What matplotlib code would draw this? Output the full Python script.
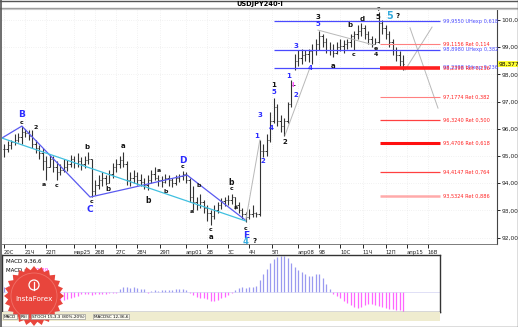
import numpy as np
import matplotlib
matplotlib.use("Agg")
import matplotlib.pyplot as plt
from matplotlib.patches import Polygon, Rectangle, Circle

W, H = 518, 327
BAR0, STEP = 4.0, 3.5          # pixel of bar 0 and pixel step per bar

# ---- 4H bars USDJPY ----
high = [95.45, 95.55, 95.6, 95.8, 95.85, 96.1, 96.0, 95.95, 95.95, 95.6,
        95.4, 95.3, 95.0, 95.05, 95.0, 94.8, 94.7, 94.9, 94.85, 95.05,
        95.0, 95.1, 94.95, 95.0, 95.15, 94.9, 94.1, 94.3, 94.4, 94.3,
        94.5, 94.75, 94.9, 95.0, 95.15, 94.8, 94.4, 94.5, 94.4, 94.35,
        94.2, 94.3, 94.5, 94.6, 94.3, 94.25, 94.35, 94.3, 94.2, 94.3,
        94.35, 94.45, 94.4, 94.2, 93.9, 93.5, 93.6, 93.4, 93.2, 93.0,
        93.2, 93.3, 93.45, 93.5, 93.55, 93.6, 93.5, 93.3, 93.1, 92.95,
        93.05, 93.2, 92.95, 95.6, 95.45, 95.8, 96.6, 97.15, 96.9, 96.5,
        96.4, 97.0, 97.8, 98.75, 98.9, 98.95, 98.9, 98.95, 99.1, 99.3,
        99.6, 99.5, 99.35, 99.2, 99.1, 99.2, 99.3, 99.25, 99.3, 99.5,
        99.6, 99.8, 99.9, 99.8, 99.6, 99.4, 99.35, 100.3, 100.0, 99.8,
        99.6, 99.3, 99.0, 98.85, 98.7]
low = [94.95, 95.15, 95.25, 95.4, 95.5, 95.45, 95.7, 95.6, 95.3, 95.1,
       94.9, 94.5, 94.1, 94.6, 94.4, 94.1, 94.3, 94.4, 94.45, 94.6,
       94.55, 94.6, 94.5, 94.55, 94.7, 93.5, 93.55, 93.8, 93.9, 93.95,
       94.0, 94.2, 94.4, 94.55, 94.6, 93.95, 93.9, 94.0, 93.95, 93.9,
       93.8, 93.75, 94.0, 94.1, 93.9, 93.85, 94.0, 93.9, 93.85, 93.95,
       94.05, 94.1, 94.0, 93.3, 93.0, 93.0, 93.1, 92.9, 92.6, 92.45,
       92.7, 92.9, 93.05, 93.15, 93.2, 93.25, 93.05, 92.9, 92.7, 92.57,
       92.7, 92.75, 92.75, 92.8, 94.95, 95.0, 95.5, 96.2, 96.1, 95.9,
       95.75, 96.2, 96.8, 98.15, 98.3, 98.4, 98.5, 98.45, 98.4, 98.7,
       98.9, 99.0, 98.8, 98.7, 98.65, 98.75, 98.85, 98.8, 98.95, 99.0,
       98.9, 99.3, 99.4, 99.3, 99.1, 99.0, 99.1, 99.15, 99.5, 99.3,
       99.0, 98.7, 98.5, 98.3, 98.15]
close = [95.25, 95.4, 95.5, 95.6, 95.7, 95.9, 95.85, 95.75, 95.45, 95.3,
         95.1, 94.8, 94.6, 94.9, 94.6, 94.4, 94.5, 94.6, 94.7, 94.9,
         94.75, 94.8, 94.7, 94.85, 94.9, 93.7, 93.95, 94.1, 94.2, 94.0,
         94.35, 94.6, 94.7, 94.85, 94.7, 94.1, 94.2, 94.25, 94.1, 94.05,
         93.95, 94.1, 94.35, 94.2, 94.1, 94.05, 94.2, 94.1, 94.0, 94.2,
         94.25, 94.35, 94.1, 93.5, 93.3, 93.2, 93.3, 93.1, 92.9, 92.8,
         93.0, 93.2, 93.35, 93.4, 93.4, 93.5, 93.2, 93.0, 92.85, 92.75,
         92.85, 92.9, 92.85, 95.2, 95.2, 95.6, 96.3, 96.8, 96.3, 96.1,
         96.3, 96.9, 97.6, 98.5, 98.6, 98.7, 98.75, 98.85, 98.9, 99.1,
         99.4, 99.2, 98.9, 98.9, 98.8, 99.0, 99.05, 99.1, 99.2, 99.4,
         99.5, 99.6, 99.7, 99.5, 99.3, 99.1, 99.2, 99.9, 99.7, 99.5,
         99.2, 98.9, 98.7, 98.5, 98.38]
# MACD histogram (9,36,6)
macd = [0.1, 0.12, 0.1, 0.1, 0.08, 0.1, 0.08, 0.06, 0.04, 0.02,
        0.01, -0.04, -0.08, -0.12, -0.15, -0.2, -0.2, -0.18, -0.16, -0.14,
        -0.1, -0.08, -0.05, -0.04, -0.04, -0.06, -0.05, -0.05, -0.04, -0.04,
        -0.03, -0.03, -0.02, 0.06, 0.1, 0.1, 0.08, 0.1, 0.08, 0.06,
        0.05, -0.02, 0.02, 0.03, 0.02, 0.03, 0.04, 0.03, 0.04, 0.05,
        0.06, 0.05, 0.03, -0.03, -0.06, -0.1, -0.12, -0.14, -0.16, -0.2,
        -0.2, -0.18, -0.14, -0.1, -0.06, -0.02, 0.04, 0.08, 0.1, 0.08,
        0.1, 0.1, 0.12, 0.24, 0.36, 0.48, 0.6, 0.68, 0.72, 0.74,
        0.74, 0.7, 0.6, 0.52, 0.44, 0.4, 0.36, 0.32, 0.32, 0.36,
        0.36, 0.28, 0.16, 0.06, -0.04, -0.08, -0.14, -0.2, -0.24, -0.28,
        -0.32, -0.34, -0.32, -0.28, -0.26, -0.26, -0.28, -0.3, -0.32, -0.34,
        -0.36, -0.36, -0.38, -0.38, -0.39]

price_ticks = [92, 93, 94, 95, 96, 97, 98, 99, 100]
last_price = 98.377

date_pos = [0, 6, 12, 20, 26, 32, 38, 44.5, 52, 58, 64, 70, 76.5, 84, 90, 96,
            102.5, 109, 115, 121]
date_labels = ["20С", "21Ч", "22П", "мар25", "26В", "27С", "28Ч", "29П", "апр01",
               "2В", "3С", "4Ч", "5П", "апр08", "9В", "10С", "11Ч", "12П",
               "апр15", "16В"]

# expansion (blue) and retracement (red) levels
exp_levels = [99.955, 98.898, 98.2398]
exp_text = ["99,9550 UHexp 0,618", "98,8980 UHexp 0,382", "98,2398 UHexp 0,236"]
ret_levels = [99.1156, 98.2398, 97.1774, 96.3240, 95.4706, 94.4147, 93.5324]
ret_text = ["99,1156 Ret 0,114", "98,2398 Ret 0,236", "97,1774 Ret 0,382",
            "96,3240 Ret 0,500", "95,4706 Ret 0,618", "94,4147 Ret 0,764",
            "93,5324 Ret 0,886"]
ret_width = [0.8, 2.6, 0.8, 0.9, 2.2, 0.9, 1.8]
ret_color = ["#ff8080", "#ff2020", "#ff8080", "#ff4040", "#ff1010", "#ff4040", "#ffaaaa"]

# wave zigzags (bar index, price)
zz_blue_x = [-0.6, 5.1, 24.6, 36, 52.3, 68.9]
zz_blue_y = [95.66, 96.10, 93.49, 93.82, 94.30, 92.65]
zz_cyan_x = [-0.6, 69.1]
zz_cyan_y = [95.66, 92.61]
gray_lines = [([69.1, 73.1], [92.65, 95.59]),
              ([80.3, 87.4], [95.77, 98.24]),
              ([89.7, 105.7], [99.63, 99.08]),
              ([114.6, 122.3], [98.16, 99.74]),
              ([116.0, 124.0], [99.71, 96.76])]

# wave labels: text, bar index, price, colour, size
BL, BK, CY = "#2b2bff", "#111111", "#33aadd"
wave_labels = [
    ("B", 5.1, 96.51, BL, 6.5), ("c", 5.1, 96.25, BK, 4.5), ("2", 9.1, 96.03, BK, 4.5),
    ("a", 11.4, 93.95, BK, 4.5), ("c", 15.1, 93.92, BK, 4.5), ("b", 23.7, 95.32, BK, 5),
    ("c", 24.9, 93.32, BK, 4.5), ("C", 24.6, 93.05, BL, 6.5), ("b", 29.7, 93.78, BK, 5),
    ("a", 34.0, 95.36, BK, 5), ("b", 41.1, 93.38, BK, 5.5), ("a", 44.3, 94.48, BK, 4.5),
    ("b", 46.3, 93.68, BK, 4.5), ("D", 51.1, 94.85, BL, 6.5), ("c", 51.1, 94.6, BK, 4.5),
    ("a", 53.7, 92.95, BK, 4.5), ("b", 55.7, 93.9, BK, 4.5), ("c", 58.9, 92.28, BK, 4.5),
    ("a", 59.1, 92.04, BK, 5), ("b", 64.9, 94.02, BK, 5.5), ("c", 64.9, 93.8, BK, 4.5),
    ("a", 66.3, 93.1, BK, 4.5), ("c", 69.1, 92.32, BK, 4.5), ("E", 69.1, 92.08, BL, 6.5),
    ("4", 68.9, 91.86, CY, 6), ("?", 71.6, 91.86, BK, 5),
    ("1", 72.3, 95.75, BL, 5), ("2", 74.0, 94.82, BL, 5), ("3", 73.1, 96.51, BL, 5),
    ("4", 76.3, 96.03, BL, 5), ("5", 77.1, 97.35, BL, 5), ("1", 77.1, 97.62, BK, 5),
    ("2", 80.3, 95.5, BK, 5), ("1", 81.4, 97.94, BL, 5), ("i", 82.6, 97.6, "#ff44ff", 5),
    ("2", 83.4, 97.24, BL, 5), ("3", 83.4, 99.04, BL, 5), ("4", 87.4, 98.24, BL, 5),
    ("5", 89.7, 99.85, BL, 5), ("3", 89.7, 100.11, BK, 5), ("a", 94.0, 98.31, BK, 5),
    ("c", 100.0, 98.75, BK, 4.5), ("b", 98.9, 99.8, BK, 5), ("d", 102.3, 100.05, BK, 5),
    ("e", 106.3, 98.95, BK, 4.5), ("4", 106.3, 98.73, BK, 4.5), ("?", 106.9, 100.37, BK, 4.5),
    ("5", 106.9, 100.12, BK, 5), ("5", 110.3, 100.16, CY, 7), ("?", 112.3, 100.14, BK, 5),
]


def box(x0, y0, x1, y1):
    return [x0 / W, 1 - y1 / H, (x1 - x0) / W, (y1 - y0) / H]


def px2bar(px):
    return (px - BAR0) / STEP


fig = plt.figure(figsize=(W / 100, H / 100), dpi=100)
fig.patch.set_facecolor("white")

# ---- main price pane ----
ax = fig.add_axes(box(2, 9, 497, 244))
n = len(close)
idx = np.arange(n)
opens = [close[0]] + close[:-1]
ax.vlines(idx, low, high, color="#333333", lw=0.8)
ax.hlines(opens, idx - 0.4, idx, color="#333333", lw=0.7)
ax.hlines(close, idx, idx + 0.4, color="#333333", lw=0.7)

ax.plot(zz_blue_x, zz_blue_y, color="#5a5af0", lw=0.9)
ax.plot(zz_cyan_x, zz_cyan_y, color="#40c0e0", lw=0.9)
for gx, gy in gray_lines:
    ax.plot(gx, gy, color="#b8b8b8", lw=0.7)

x_exp0, x_ret0, x_end = px2bar(274), px2bar(380), px2bar(440)
x_txt = px2bar(443)
for k, (lev, txt) in enumerate(zip(exp_levels, exp_text)):
    xe = x_end if k < 2 else x_ret0
    ax.hlines(lev, x_exp0, xe, color="#4a4aff", lw=0.9)
    ax.text(x_txt, lev, txt, color="#4a4aff", fontsize=3.6, va="center", ha="left")
for lev, txt, lw, col in zip(ret_levels, ret_text, ret_width, ret_color):
    ax.hlines(lev, x_ret0, x_end, color=col, lw=lw)
    ax.text(x_txt, lev, txt, color="#ff2020", fontsize=3.6, va="center", ha="left")

for txt, xi, yi, col, sz in wave_labels:
    ax.text(xi, yi, txt, color=col, fontsize=sz, ha="center", va="center",
            fontweight="bold")

ax.set_xlim(px2bar(2), px2bar(497))
ax.set_ylim(100 - (244 - 20) / 27.2, 100 + 11 / 27.2)
ax.yaxis.tick_right()
ax.set_yticks(price_ticks)
ax.set_yticklabels([f"{p},0000" for p in price_ticks], fontsize=4.3, color="#222222")
ax.tick_params(axis="y", length=2, pad=1, width=0.6)
ax.set_xticks(date_pos)
ax.set_xticklabels(date_labels, fontsize=3.8, ha="left", color="#222222")
ax.tick_params(axis="x", length=3, pad=1, width=0.6, direction="out")
ax.grid(color="#d6d6d6", lw=0.4, ls=(0, (1, 3)))
for s in ["top", "left"]:
    ax.spines[s].set_visible(False)
ax.spines["right"].set_color("#444444")
ax.spines["bottom"].set_color("#666666")
ax.spines["right"].set_linewidth(0.8)
ax.spines["bottom"].set_linewidth(0.6)
ax.text(1.003, last_price, "98,3770", transform=ax.get_yaxis_transform(),
        fontsize=4.3, va="center", ha="left",
        bbox=dict(fc="#ffff33", ec="none", pad=0.6))

# ---- MACD pane ----
am = fig.add_axes(box(2, 255, 440, 312))
mcol = ["#9a9af0" if v >= 0 else "#ff66ff" for v in macd]
am.vlines(idx, 0, macd, colors=mcol, lw=0.9)
am.axhline(0, color="#c8c8f0", lw=0.4)
am.set_xlim(px2bar(2), px2bar(440))
am.set_ylim(-20 * 0.02 - 0.02, 37 * 0.02 + 0.02)
am.set_xticks([])
am.set_yticks([])
for s in am.spines.values():
    s.set_color("#333333")
    s.set_linewidth(1.0)
am.text(0.008, 0.93, "MACD 9,36,6", transform=am.transAxes, fontsize=4, va="top")
am.text(0.008, 0.78, "MACD =", transform=am.transAxes, fontsize=4, va="top")
am.text(0.075, 0.78, "-0,39", transform=am.transAxes, fontsize=4, va="top", color="#ff33ff")

# ---- overlay: frame, title, tabs, logo ----
ov = fig.add_axes([0, 0, 1, 1], zorder=10)
ov.set_xlim(0, W)
ov.set_ylim(H, 0)
ov.axis("off")
ov.patch.set_alpha(0)
ov.plot([0, W], [7.5, 7.5], color="#9a9a9a", lw=1.0)
ov.plot([0, W], [9, 9], color="#c8c8c8", lw=0.8)
ov.plot([1, 1], [0, H], color="#555555", lw=1.2)
ov.plot([0, W], [0.5, 0.5], color="#555555", lw=1.0)
ov.plot([0, W], [H - 0.5, H - 0.5], color="#555555", lw=1.0)
ov.plot([W - 0.5, W - 0.5], [0, H], color="#555555", lw=1.0)
ov.text(260, 4.2, "USDJPY240-I", fontsize=4.8, fontweight="bold", ha="center", va="center")

ov.add_patch(Rectangle((2, 312), 438, 9, fc="#efeccf", ec="none"))
tabs = [("MACD", 4), ("RSI", 21), ("STOCH 15,3,3 (80%-20%)", 32), ("MACDSC 12,36,6", 94)]
for t, tx in tabs:
    ov.text(tx, 316.5, t, fontsize=3.0, va="center", ha="left",
            bbox=dict(fc="#fbfaf0", ec="#888888", lw=0.4, pad=0.6))

cx, cy = 34, 296
ang = np.linspace(0, 2 * np.pi, 49)[:-1]
rad = np.where(np.arange(48) % 2 == 0, 30, 26)
star = np.column_stack([cx + rad * np.cos(ang), cy + rad * np.sin(ang)])
ov.add_patch(Polygon(star, closed=True, fc="#e8453c", ec="none"))
ov.add_patch(Circle((cx, cy), 23, fc="none", ec="#f07068", lw=0.6))
ov.add_patch(Circle((cx, cy - 11), 5, fc="none", ec="white", lw=0.9))
ov.plot([cx, cx], [cy - 14, cy - 6], color="white", lw=0.9)
ov.text(cx, cy + 3, "InstaForex", color="white", fontsize=5.2, ha="center", va="center")

fig.savefig("out.png", dpi=100)
